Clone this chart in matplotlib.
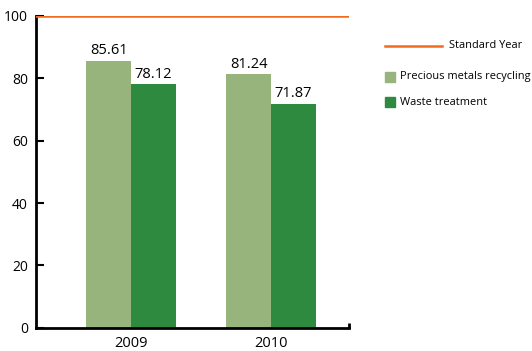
import numpy as np
import matplotlib.pyplot as plt
from matplotlib.patches import Rectangle
from matplotlib.lines import Line2D

plt.rcParams['font.family'] = ['Open Sans', 'DejaVu Sans']

years = ["2009", "2010"]
precious = [85.61, 81.24]
waste = [78.12, 71.87]
standard = 100
yticks = [0, 20, 40, 60, 80, 100]

c_light = '#96b47c'
c_dark = '#2e8a3f'
c_orange = '#f26a1b'

W, H = 532, 351
fig = plt.figure(figsize=(W / 100, H / 100), dpi=100)
ax = fig.add_axes([0.068, 0.066, 0.588, 0.889])

x = np.arange(len(years))
w = 0.32
b1 = ax.bar(x - w / 2, precious, w, color=c_light)
b2 = ax.bar(x + w / 2, waste, w, color=c_dark)
ax.axhline(standard, color=c_orange, lw=1.8, zorder=5)

for bars, vals in ((b1, precious), (b2, waste)):
    for r, v in zip(bars, vals):
        ax.text(r.get_x() + r.get_width() / 2, v + 0.8, f"{v:.2f}",
                ha='center', va='bottom', fontsize=10.5)

ax.set_xlim(-0.679, 1.557)
ax.set_ylim(0, 100)
ax.set_yticks(yticks)
ax.set_xticks(x)
ax.set_xticklabels(years)
ax.tick_params(axis='y', direction='in', length=6, width=1.5, labelsize=10, pad=6)
ax.tick_params(axis='x', length=0, labelsize=10.5, pad=6)

for s in ('top', 'right'):
    ax.spines[s].set_visible(False)
ax.spines['left'].set_linewidth(2)
ax.spines['bottom'].set_linewidth(2)
# small upturned tick at the end of the x axis
ax.plot([1.557, 1.557], [0, 1.5], color='black', lw=2, clip_on=False,
        solid_capstyle='butt')

# legend drawn by hand, positions in pixels
def fx(px):
    return px / W

def fy(py):
    return 1 - py / H

fig.add_artist(Line2D([fx(385), fx(442)], [fy(46), fy(46)], color=c_orange, lw=1.8,
                      transform=fig.transFigure))
fig.text(fx(449), fy(46), "Standard Year", fontsize=7.9, va='center')
for (top, col, lab) in ((72, c_light, "Precious metals recycling"),
                        (97, c_dark, "Waste treatment")):
    fig.add_artist(Rectangle((fx(385), fy(top + 10)), fx(10), 10 / H, color=col,
                             transform=fig.transFigure))
    fig.text(fx(400), fy(top + 5), lab, fontsize=7.9, va='center')

fig.savefig("out.png", dpi=100)
